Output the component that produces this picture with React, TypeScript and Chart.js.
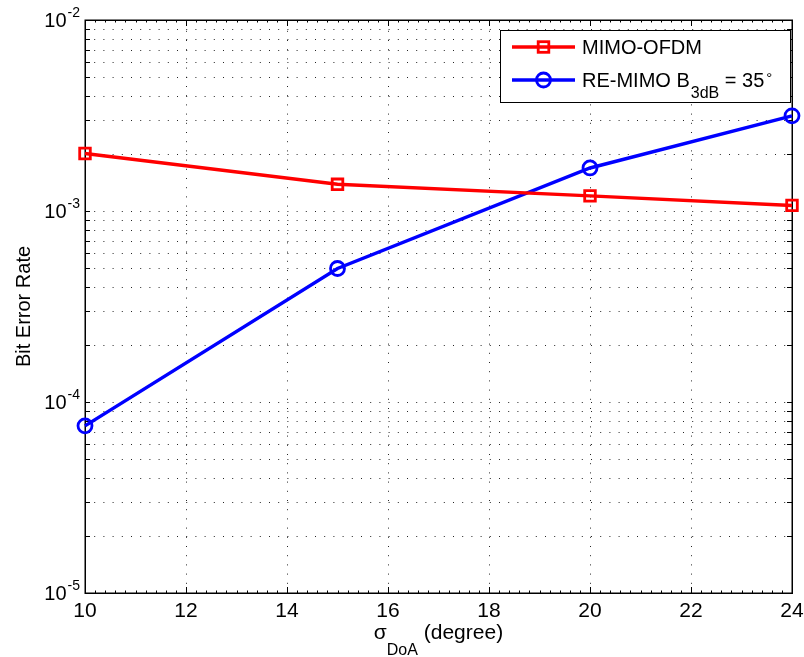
import React, { useEffect, useRef } from "react";
import { Chart, registerables } from "chart.js";

Chart.register(...registerables);

// ---------- data ----------
const xValues = [10, 15, 20, 24];
const mimoOfdm = [2.0e-3, 1.38e-3, 1.2e-3, 1.07e-3];
const reMimo = [7.5e-5, 5.0e-4, 1.68e-3, 3.15e-3];

const xTicks = [10, 12, 14, 16, 18, 20, 22, 24];
const xMinorTicks = [
  10.2, 10.4, 10.6, 10.8, 11, 11.2, 11.4, 11.6, 11.8, 12.2, 12.4, 12.6, 12.8, 13, 13.2, 13.4, 13.6, 13.8,
  14.2, 14.4, 14.6, 14.8, 15, 15.2, 15.4, 15.6, 15.8, 16.2, 16.4, 16.6, 16.8, 17, 17.2, 17.4, 17.6, 17.8,
  18.2, 18.4, 18.6, 18.8, 19, 19.2, 19.4, 19.6, 19.8, 20.2, 20.4, 20.6, 20.8, 21, 21.2, 21.4, 21.6, 21.8,
  22.2, 22.4, 22.6, 22.8, 23, 23.2, 23.4, 23.6, 23.8,
];
const yDecades = [1e-5, 1e-4, 1e-3, 1e-2];
const yExponents = ["-5", "-4", "-3", "-2"];
const yMinorMultipliers = [2, 3, 4, 5, 6, 7, 8, 9];

const seriesNames = ["MIMO-OFDM", "RE-MIMO B"];
const legendSub = "3dB";
const legendTail = " = 35";
const legendSup = "°";
const xTitleMain = "σ";
const xTitleSub = "DoA";
const xTitleTail = " (degree)";
const yTitle = "Bit Error Rate";

const RED = "#ff0000";
const BLUE = "#0000ff";
const FONT = '"Liberation Sans", Arial, Helvetica, sans-serif';
const LINE_W = 3.5;
const MARK_W = 2.8;

function txt(ctx: CanvasRenderingContext2D, s: string, x: number, y: number, size: number, align: CanvasTextAlign = "left") {
  ctx.font = `${size}px ${FONT}`;
  ctx.textAlign = align;
  ctx.textBaseline = "alphabetic";
  ctx.fillText(s, x, y);
  return ctx.measureText(s).width;
}
function tw(ctx: CanvasRenderingContext2D, s: string, size: number) {
  ctx.font = `${size}px ${FONT}`;
  return ctx.measureText(s).width;
}

const matlabPlugin = {
  id: "matlabAxes",
  beforeDatasetsDraw(chart: any) {
    const { ctx, chartArea: a, scales } = chart;
    const x = scales.x;
    const y = scales.y;
    const L = Math.round(a.left), R = Math.round(a.right), T = Math.round(a.top), B = Math.round(a.bottom);

    const yGrid: number[] = [];
    yDecades.forEach((d, i) => {
      if (i > 0 && i < yDecades.length - 1) yGrid.push(d);
      if (i < yDecades.length - 1) yMinorMultipliers.forEach((m) => yGrid.push(d * m));
    });

    ctx.save();
    // dotted grid
    ctx.strokeStyle = "rgba(0,0,0,0.85)";
    ctx.lineWidth = 1;
    ctx.setLineDash([1, 8.2]);
    yGrid.forEach((v) => {
      const py = Math.round(y.getPixelForValue(v)) + 0.5;
      ctx.beginPath();
      ctx.moveTo(L, py);
      ctx.lineTo(R, py);
      ctx.stroke();
    });
    xTicks.slice(1, -1).forEach((v) => {
      const px = Math.round(x.getPixelForValue(v)) + 0.5;
      ctx.beginPath();
      ctx.moveTo(px, B);
      ctx.lineTo(px, T);
      ctx.stroke();
    });
    ctx.setLineDash([]);

    // tick marks (inside)
    ctx.strokeStyle = "#000";
    ctx.lineWidth = 1;
    yGrid.forEach((v) => {
      const py = Math.round(y.getPixelForValue(v)) + 0.5;
      ctx.beginPath();
      ctx.moveTo(L, py);
      ctx.lineTo(L + 5, py);
      ctx.moveTo(R, py);
      ctx.lineTo(R - 5, py);
      ctx.stroke();
    });
    xTicks.forEach((v) => {
      const px = Math.round(x.getPixelForValue(v)) + 0.5;
      ctx.beginPath();
      ctx.moveTo(px, B);
      ctx.lineTo(px, B - 6);
      ctx.moveTo(px, T);
      ctx.lineTo(px, T + 6);
      ctx.stroke();
    });
    xMinorTicks.forEach((v) => {
      const px = Math.round(x.getPixelForValue(v)) + 0.5;
      ctx.beginPath();
      ctx.moveTo(px, B);
      ctx.lineTo(px, B - 2.5);
      ctx.moveTo(px, T);
      ctx.lineTo(px, T + 2.5);
      ctx.stroke();
    });

    // box
    ctx.lineWidth = 1.5;
    ctx.strokeRect(L + 0.25, T + 0.25, R - L, B - T);
    ctx.restore();
  },
  afterDraw(chart: any) {
    const { ctx, chartArea: a, scales } = chart;
    const x = scales.x;
    const y = scales.y;
    ctx.save();
    ctx.fillStyle = "#000";

    // y tick labels 10^n
    yDecades.forEach((d, i) => {
      const py = y.getPixelForValue(d);
      const sup = yExponents[i];
      const supW = tw(ctx, sup, 14);
      const right = 80;
      txt(ctx, sup, right - supW, py - 3, 14, "left");
      txt(ctx, "10", right - supW - 1, py + 7, 20, "right");
    });

    // x tick labels
    xTicks.forEach((v) => {
      txt(ctx, String(v), x.getPixelForValue(v), 617, 21, "center");
    });

    // x title
    const cx = (a.left + a.right) / 2;
    const total = tw(ctx, xTitleMain, 21) + tw(ctx, xTitleSub, 16) + tw(ctx, xTitleTail, 21);
    let px = cx - total / 2;
    px += txt(ctx, xTitleMain, px, 639, 21);
    px += txt(ctx, xTitleSub, px, 655, 16);
    txt(ctx, xTitleTail, px, 639, 21);

    // y title
    ctx.save();
    ctx.translate(30, (a.top + a.bottom) / 2);
    ctx.rotate(-Math.PI / 2);
    txt(ctx, yTitle, 0, 0, 20, "center");
    ctx.restore();

    // legend
    ctx.fillStyle = "#fff";
    ctx.fillRect(500, 30, 291, 73);
    ctx.strokeStyle = "#000";
    ctx.lineWidth = 1;
    ctx.strokeRect(500.5, 30.5, 290, 72);

    const rows = [47, 80];
    // row 1
    ctx.strokeStyle = RED;
    ctx.lineWidth = LINE_W;
    ctx.beginPath();
    ctx.moveTo(512, rows[0]);
    ctx.lineTo(575, rows[0]);
    ctx.stroke();
    ctx.lineWidth = MARK_W;
    const s = Math.SQRT2 * 7.5;
    ctx.strokeRect(543.5 - s / 2, rows[0] - s / 2, s, s);
    ctx.fillStyle = "#000";
    txt(ctx, seriesNames[0], 582, rows[0] + 7, 20);

    // row 2
    ctx.strokeStyle = BLUE;
    ctx.lineWidth = LINE_W;
    ctx.beginPath();
    ctx.moveTo(512, rows[1]);
    ctx.lineTo(575, rows[1]);
    ctx.stroke();
    ctx.lineWidth = MARK_W;
    ctx.beginPath();
    ctx.arc(543.5, rows[1], 7, 0, Math.PI * 2);
    ctx.stroke();
    ctx.fillStyle = "#000";
    let lx = 582;
    lx += txt(ctx, seriesNames[1], lx, rows[1] + 7, 20);
    lx += txt(ctx, legendSub, lx + 1, rows[1] + 18, 16) + 1;
    lx += txt(ctx, legendTail, lx, rows[1] + 7, 20);
    txt(ctx, legendSup, lx + 2, rows[1] + 3, 15);

    ctx.restore();
  },
};

export default function App() {
  const ref = useRef<HTMLCanvasElement | null>(null);
  useEffect(() => {
    if (!ref.current) return;
    const chart = new Chart(ref.current, {
      type: "line",
      data: {
        datasets: [
          {
            label: seriesNames[0],
            data: xValues.map((xv, i) => ({ x: xv, y: mimoOfdm[i] })),
            borderColor: RED,
            borderWidth: LINE_W,
            pointStyle: "rect",
            pointRadius: 7.5,
            pointBorderWidth: MARK_W,
            pointBorderColor: RED,
            pointBackgroundColor: "rgba(0,0,0,0)",
            tension: 0,
            clip: false,
          } as any,
          {
            label: seriesNames[1] + legendSub + legendTail + legendSup,
            data: xValues.map((xv, i) => ({ x: xv, y: reMimo[i] })),
            borderColor: BLUE,
            borderWidth: LINE_W,
            pointStyle: "circle",
            pointRadius: 7,
            pointBorderWidth: MARK_W,
            pointBorderColor: BLUE,
            pointBackgroundColor: "rgba(0,0,0,0)",
            tension: 0,
            clip: false,
          } as any,
        ],
      },
      options: {
        responsive: false,
        animation: false,
        devicePixelRatio: 1,
        layout: { padding: { left: 85, top: 20, right: 12, bottom: 64 } },
        plugins: { legend: { display: false }, tooltip: { enabled: false } },
        events: [],
        scales: {
          x: { type: "linear", min: 10, max: 24, display: false },
          y: { type: "logarithmic", min: 1e-5, max: 1e-2, display: false },
        },
      },
      plugins: [matlabPlugin],
    });
    return () => chart.destroy();
  }, []);
  return (
    <div style={{ position: "absolute", left: 0, top: 0, width: 804, height: 657, background: "#fff" }}>
      <canvas ref={ref} width={804} height={657} style={{ display: "block" }} />
    </div>
  );
}
